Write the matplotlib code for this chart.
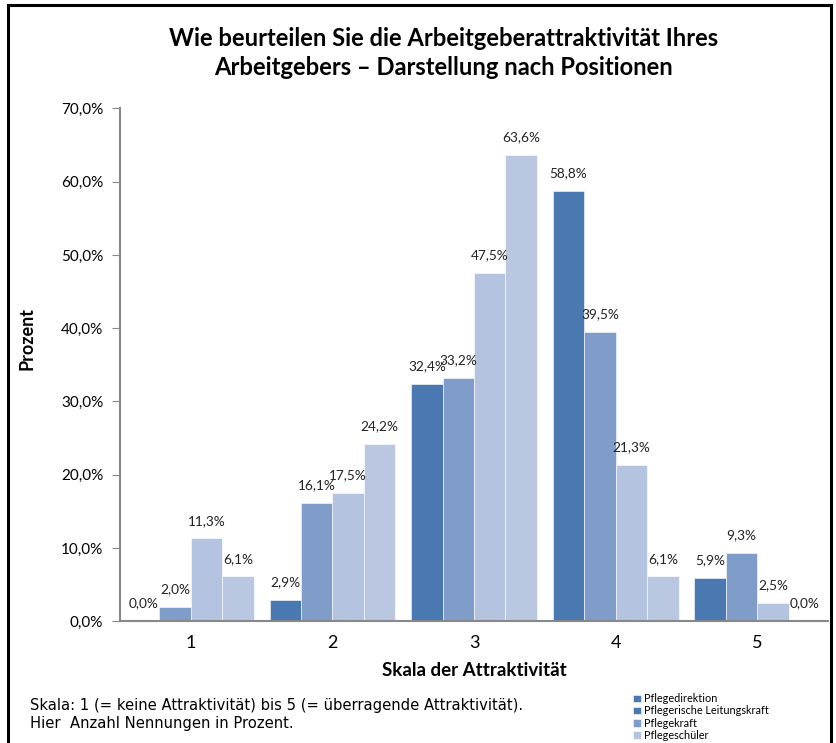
import numpy as np
import matplotlib
matplotlib.use('Agg')
import matplotlib.pyplot as plt
from matplotlib.patches import Rectangle

categories = ['1', '2', '3', '4', '5']
series_names = ['Pflegedirektion', 'Pflegerische Leitungskraft', 'Pflegekraft', 'Pflegeschüler']
pflegedirektion = [0.0, 2.9, 32.4, 58.8, 5.9]
leitungskraft = [2.0, 16.1, 33.2, 39.5, 9.3]
pflegekraft = [11.3, 17.5, 47.5, 21.3, 2.5]
pflegeschueler = [6.1, 24.2, 63.6, 6.1, 0.0]
yticks = [0, 10, 20, 30, 40, 50, 60, 70]

series = [pflegedirektion, leitungskraft, pflegekraft, pflegeschueler]
colors = ['#4A78B1', '#7F9DC8', '#B4C3DF', '#B9C7E1']

plt.rcParams['font.family'] = ['Lato', 'DejaVu Sans']

fig = plt.figure(figsize=(8.36, 7.43), dpi=100)
ax = fig.add_axes([0.1435, 0.164, 0.847, 0.690])

x = np.arange(1, len(categories) + 1)
w = 0.222
for i, (vals, col) in enumerate(zip(series, colors)):
    pos = x + (i - 1.5) * w
    ax.bar(pos, vals, width=w, color=col, edgecolor='white', linewidth=0.4,
           label=series_names[i])
    for p, v in zip(pos, vals):
        ax.text(p, v + 1.6, f'{v:.1f}%'.replace('.', ','), ha='center', va='bottom',
                fontsize=9.8, color='#222222')

ax.set_xlim(0.5, 5.5)
ax.set_ylim(0, 70)
ax.set_yticks(yticks)
ax.set_yticklabels([f'{t:.1f}%'.replace('.', ',') for t in yticks], fontsize=11)
ax.set_xticks(x)
ax.set_xticklabels(categories, fontsize=13)
ax.tick_params(axis='x', length=0, pad=10)
ax.tick_params(axis='y', length=6, color='#888888', pad=6)
for s in ['top', 'right']:
    ax.spines[s].set_visible(False)
for s in ['left', 'bottom']:
    ax.spines[s].set_color('#888888')
    ax.spines[s].set_linewidth(1.5)

ax.set_xlabel('Skala der Attraktivität', fontsize=13.5, fontweight='bold', labelpad=8)
fig.text(0.032, 0.545, 'Prozent', rotation=90, fontsize=13, fontweight='bold',
         ha='center', va='center')

fig.text(0.531, 0.929, 'Wie beurteilen Sie die Arbeitgeberattraktivität Ihres\n'
         'Arbeitgebers – Darstellung nach Positionen', ha='center', va='center',
         fontsize=17.1, fontweight='bold', linespacing=1.3)

fig.text(0.036, 0.038, 'Skala: 1 (= keine Attraktivität) bis 5 (= überragende Attraktivität).\n'
         'Hier  Anzahl Nennungen in Prozent.', ha='left', va='center', fontsize=10.6,
         linespacing=1.25, family=['DejaVu Sans'])

leg = ax.legend(loc='upper left', bbox_to_anchor=(0.752, 0.073), bbox_transform=fig.transFigure,
                frameon=False, fontsize=7.8, handlelength=0.7, handleheight=0.7,
                handletextpad=0.3, labelspacing=0.12, borderaxespad=0)
for h, c in zip(leg.legend_handles, [colors[0], colors[0], colors[1], colors[2]]):
    h.set_facecolor(c)

fig.patches.append(Rectangle((8 / 836, -0.05), (831 - 8) / 836, (743 - 5) / 743 + 0.05,
                             transform=fig.transFigure, fill=False, edgecolor='black',
                             linewidth=2.2))

plt.savefig('out.png', dpi=100)
plt.close()
